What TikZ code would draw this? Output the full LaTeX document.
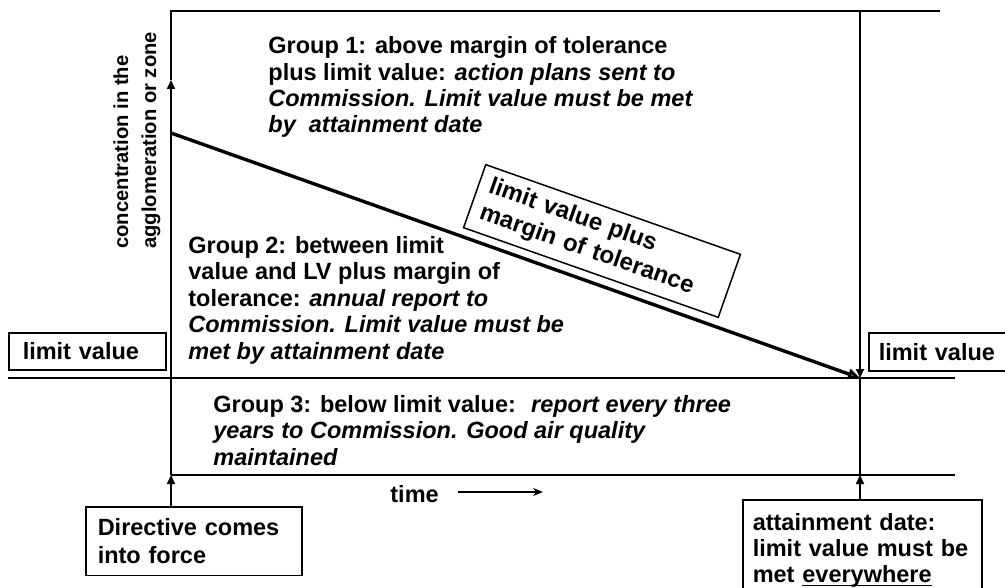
\documentclass[tikz,border=0pt]{standalone}
\usepackage{fontspec}
\setmainfont{Liberation Sans}
\usetikzlibrary{arrows.meta}

\tikzset{
    frame/.style={line width=1pt, black},
    tri/.style={-{Triangle[length=4.5pt,width=4pt]}},
    grouptext/.style={anchor=base west, align=left, inner sep=0pt,
        font=\bfseries\fontsize{11.75}{13.2}\selectfont},
    labelbox/.style={draw, line width=0.75pt, align=left, inner ysep=5pt,
        font=\bfseries\fontsize{11.75}{13.7}\selectfont}
}

\begin{document}
\begin{tikzpicture}[x=0.5pt,y=-0.5pt]
                \useasboundingbox (0,0) rectangle (1005,588);
                \coordinate (O) at (171,475);
                \coordinate (Y) at (171,80);
                \coordinate (S) at (171,11);
                \coordinate (E) at (940,11);
                \coordinate (P) at (171,133);
                \coordinate (D) at (860,378);
                \coordinate (U) at (860,11);
                \coordinate (B) at (860,475);
                \coordinate (L) at (8,378);
                \coordinate (R) at (955,378);
                \coordinate (Q) at (955,475);
                \coordinate (T1) at (458,492);
                \coordinate (T2) at (543,492);

                \draw[frame] (Y) -- (S) -- (E);
                \draw[frame, tri] (O) -- (Y);
                \draw[frame, tri] (U) -- (D);
                \draw[frame] (D) -- (B);
                \draw[line width=1.2pt] (L) -- (R);
                \draw[frame] (O) -- (Q);
                \draw[line width=1.7pt, -{Triangle[open,length=6pt,width=5pt]}] (P) -- (D);

                \node[grouptext] (g1) at (268,133) {Group 1: above margin of tolerance\\
                    plus limit value: \textit{action plans sent to}\\
                    \textit{Commission.  Limit value must be met}\\
                    \textit{by~ attainment date}};
                \node[grouptext] (g2) at (188,359) {Group 2: between limit\\
                    value and LV plus margin of\\
                    tolerance: \textit{annual report to}\\
                    \textit{Commission.  Limit value must be}\\
                    \textit{met by attainment date}};
                \node[grouptext] (g3) at (213,465) {Group 3: below limit value:~ \textit{report every three}\\
                    \textit{years to Commission. Good air quality}\\
                    \textit{maintained}};
                \node[grouptext, font=\bfseries\fontsize{10.1}{14}\selectfont, rotate=90] (conc) at (156,249)
                    {concentration in the\\ agglomeration or zone};
                \node[grouptext] (time) at (390,502) {time};
                \draw[line width=0.6pt, -{Stealth[length=5pt,width=4pt]}] (T1) -- (T2);

                \node[labelbox, rotate=-19.4, text width=124pt, inner xsep=5.5pt, inner ysep=3pt, minimum height=33.4pt,
                    font=\bfseries\fontsize{12}{14}\selectfont] (mot) at (602,241)
                    {limit value plus\\ margin of tolerance};
                \node[labelbox, anchor=north west, text width=64.5pt, inner xsep=7pt, minimum height=18.5pt] (lvl) at (8,332) {limit value};
                \node[labelbox, anchor=north west, text width=70pt, inner xsep=5pt, minimum height=19pt] (lvr) at (868,332) {limit value};
                \node[labelbox, anchor=north west, text width=96pt, inner xsep=6pt, inner ysep=6pt] (dir) at (85,506) {Directive comes\\ into force};
                \node[labelbox, anchor=north west, text width=109.5pt, inner xsep=5pt, inner ysep=7pt,
                    font=\bfseries\fontsize{11.75}{13}\selectfont] (att) at (742,499)
                    {attainment date:\\ limit value must be\\ met \underline{\smash{everywhere}}};

                \draw[line width=0.8pt, tri] (dir.north -| O) -- (O);
                \draw[line width=0.8pt, tri] (att.north -| B) -- (B);
\end{tikzpicture}
\end{document}
